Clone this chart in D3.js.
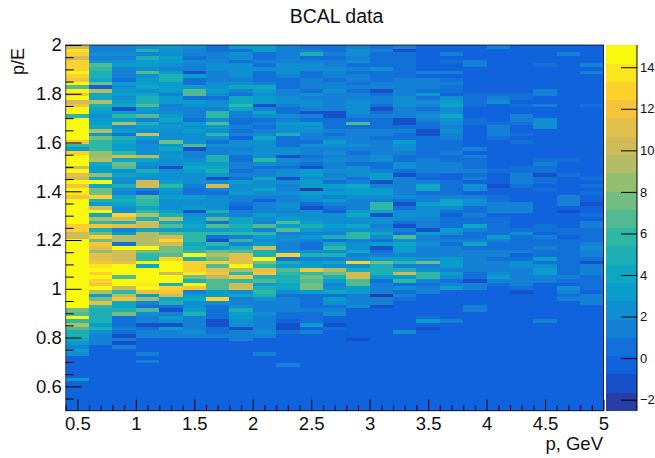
<!DOCTYPE html>
<html lang="en">
<head>
  <meta charset="UTF-8">
  <title>BCAL data</title>
  <script src="https://cdn.jsdelivr.net/npm/d3@7"></script>
  <style type="text/css">
    html, body { margin:0; padding:0; background:white; }
    svg { display:block; }
    text { font-family: "Liberation Sans", Arial, sans-serif; fill:#111; }
    .domain { display:none; }
  </style>
</head>
<body>
<svg id="chart" width="655" height="458"></svg>
<script>

  // bin values per p slice, top row (p/E = 2) first, 25 rows on a line
  const col00 = [10,14,13,10.5,12.5,12.5,13,15,13,12,15,7,15,12,15,10,12,15,15,6,15,15,15,15,15,
    15,12,6,3,12.5,15,15,15,10,15,11,10.5,15,12,15,14,12,15,15,15,15,15,15,15,13,
    12.5,10,10,15,15,15,15,15,15,15,15,15,15,15,15,15,15,15,15,15,15,15,8,7,15,
    6,9.5,7,5,5,4,3.5,1,3,2,0,0,0,0,0,0,3,0,0,0,0,0,0,0,0];
  const col01 = [1,1,2,1.5,2,6.5,5.5,5,5,4,8,0,9.5,4,4,9.5,5,4,3,2,3,3,4.5,9,3,
    8,6,6,6,8.5,8.5,9,4,3,3,8.5,4,16,4,8,8,12.5,5,3,10,16,4,9,6,12,
    5,8,13,8,12,11,8.5,11.5,11,12,14,15,12.5,15,12.5,12,15,9,3,8,11,6,5,5,5,
    5,3,5,2,1.5,1,1,0,0,0,0,0,0,0,0,0,0,0,0,0,0,0,0,0,0];
  const col02 = [1,1,2,1.5,2,3,1,1,1,.5,3,2,3,3,2,3.5,4,-1,3,6,3,9,2.5,3,.5,
    5,4.5,3,3,6,10,4,7.5,7,2.5,4,2,2,5,2.5,1.5,4.5,5,4,2,2,13,10,5,11,
    1.5,3.5,9,9,.5,16,10,10,10,11,16,16,16,7,16,16,10,6,9,12,4.5,4,5,8,.8,
    .5,.5,1.5,.5,-1,1,-1,1,0,0,0,0,0,0,0,0,0,0,0,0,0,0,0,0,0];
  const col03 = [2,5,1,5,3,3,2,7,2,3,3.5,4,2.5,4,5,5,7,3,2,7,1.5,5,3,2.5,10,
    3,1.5,2,2,2,9,4,2.5,1.5,5,3,2,10,10,1.5,0,7,6,5.5,4,6,9,5,10,10,
    4,9,9,9,9.5,16,7.5,6,5.5,16,4,15,16,16,16,14,16,11,3.5,8.5,1,.5,7,2,1,
    1,-1,.5,1,1,0,0,0,0,1.5,0,1.5,0,0,0,0,0,0,0,0,0,0,0,0,0];
  const col04 = [3,2,2,3,3,2.5,1,3,5,5,3,3,3,1,3,3,1,1.5,2,3,4,2,3.5,2,2,
    2,8,3,4,2,3.5,2,2,-1,2,2,2,3,6,3,2,3,2,2,2,3,5,9,4,7,
    3,7,10,13,10,8,8,7,12.5,15,16,16,10,15,15,5,12.5,12,10,4,5,.5,-1,1.5,3,
    2,-1,3,1,1,0,0,0,0,0,0,0,0,0,0,0,0,0,0,0,0,0,0,0,0];
  const col05 = [2,1,1,.5,2,1.5,1.5,-1,3,.3,.3,3,7,7,.5,3,2,1.5,1,1.5,.5,3,2,3,2,
    2,2,7,-1.5,1,1.5,2,3,4.5,3,2,2,2,1,.5,.5,3,2,2,3,-1,2,3,3,4,
    3.5,6,6,6,4,5,6,16,5,12.5,13,12.5,14,8,5,16,12,1.5,3,4,2,2,3,5,1,
    1.5,1.5,1.5,2,1,0,0,0,0,0,0,0,0,0,0,0,0,0,0,0,0,0,0,0,0];
  const col06 = [.3,.5,1,1,1.5,2,2,1,1.5,1.5,2,2.5,3,2,.5,2,2,1.5,6,6,2,7,3,2,6,
    2,.5,2,1.5,1.5,5,5,3,4,5,3,-1,2,10,1,.3,2,2,2,2,5,2,7,.5,7,
    3,6,.8,-1,6,3.5,8,9,8,13,7,11.5,12,9,7,7,7,3,3.5,13,2,.3,.3,.5,.8,
    -1,-1,.5,.5,1.5,0,0,0,0,0,0,0,0,0,0,0,0,0,0,0,0,0,0,0,0];
  const col07 = [3,.5,2,2,.5,2,2,2,2,1.5,2,4,1.5,.8,4,4,6,4.5,1,1,.3,.3,1,.5,1,
    0,2.5,2,1.5,2,.3,.3,1,1.5,.3,1,.3,3,2,2,3,1.5,1,.5,0,1,1,4,4,5,
    4,6,1.5,6,1,5,7,11,11,11,15,9,6,12,6,10,10,2.5,4,1,1,2,5,3,3,
    2.5,2,-1,1,1.5,1.5,0,0,0,0,0,0,0,0,0,0,0,0,0,0,0,0,0,0,0];
  const col08 = [3,3,.5,.5,1,.5,2,.3,.5,.3,1,4,3,2,3.5,3,-1,1.5,4,2,.5,1.5,.3,1,2,
    4,2,2,2,2,2,6,2,.3,1,1,4,2,2,4,2,1,0,1,1.5,1,3,2,1,7,
    1.5,6,3,2,3,10,5,5,15,8,6,11,12,5,7,3,5,6,5,2,1,1,1,2,1,
    1,1,1,2,1.5,0,0,0,0,1.5,0,0,0,0,0,0,0,0,0,0,0,0,0,0,0];
  const col09 = [1,1,1.5,1.5,1,2,2,2,1,.5,.5,.5,1,1,2,2,1.5,.8,.8,2,1,3,2,2,5,
    .8,.5,.5,2,2,-1,2,1,.8,2,2,-1,2,1.5,1,2,1,1.5,2,2,1.5,2.5,3,7,3,
    7,1,2,2.5,1,1,2,13,.5,5,3,7,6,5,5,4,4,2.5,.8,1.5,1,1,1,.5,.5,
    0,-1,-1,.5,0,0,0,0,0,0,0,0,1.5,0,0,0,0,0,0,0,0,0,0,0,0];
  const col10 = [.5,1,5,.5,1.5,2,2,.5,.5,1,1.5,1,.8,2,1.5,2,2,1,-1,1,.5,3,2,2,1,
    1,.5,2,1,1,.5,1,.5,-1,3,3,2,3,3,-2,3,2,2,.3,-1,2,2,2,3,5,
    3,1.5,3,1,.5,.5,2,5,1,3,3,12,6,8,7,8,8,3,.5,.5,.5,.5,1.5,.5,.3,
    .5,3,0,1,0,0,0,0,0,0,0,0,0,0,0,0,0,0,0,0,0,0,0,0,0];
  const col11 = [.5,.5,1,.8,1,1.5,2,1.5,1.5,.8,1,1,2,1,1.5,1.5,1,1.5,-1,-1,.5,.5,.5,1,.3,
    1,3,2,1,2,1,2,1.5,1,2,1.5,2,.5,3,2,3,1.5,3,1.5,.5,0,2,2,2,3,
    2,1.5,5,.5,4,6,2,5,1,4,2,9,8,5,3,1.5,2,4.5,.3,3,2,.5,1,2,0,
    0,-1,.5,0,0,0,0,0,0,0,0,0,0,0,0,0,0,0,0,0,0,0,0,0,0];
  const col12 = [1.5,2.5,2,1.5,2,.5,1,.5,1,1.5,.5,1,.5,1,1.5,2,2,2,2,1,.5,7,.5,1,1,
    1.5,1.5,2,1,.5,1,1,.5,2,2,2,.5,1.5,4,3,3,2,1,1,1,3,4,2,2,4,
    2,6,5.5,1.5,2,2.5,4,1.5,2,13,2.5,5,10,10,7,7,3.5,3.5,1.5,1,1,2.5,0,0,0,
    0,0,0,0,0,-1,0,0,0,0,0,0,0,0,0,0,0,0,0,0,0,0,0,0,0];
  const col13 = [.5,1,.5,.5,.5,.5,2.5,.5,.5,.5,1,1,-1,.5,1.5,1,.5,-1,.5,1,.5,.5,.5,1.5,1,
    .5,1,1,1,1.5,2,2,.5,.5,1,3,3.5,-1,1,3,3,2,1,6,6,4,-1,2,2,1,
    2,4,2,.5,3,-1,.5,1,3,8,5,5,5,3,.5,1.5,1.5,1.5,-2,1,1,-1.5,0,0,0,
    0,0,0,0,0,0,0,0,0,0,0,0,0,0,0,0,0,0,0,0,0,0,0,0,0];
  const col14 = [1.5,-1,.5,.5,.5,.8,.5,.5,.5,1,1.5,1.5,1.5,1.5,2,2,2,1.5,1,1,-1,-1,.5,1,.5,
    .5,3,2,2,1,.5,.5,2,2,.5,-1,1,1.5,1,1,1,2,.5,-1,.5,2,2,2,.8,-1,
    1,.5,7,2,4,3,3,1,3,5.5,1.5,5,10.5,3,6,.8,2,.8,1.5,.3,0,0,0,0,0,
    0,0,0,2,0,0,0,0,0,0,0,0,0,0,0,0,0,0,0,0,0,0,0,0,0];
  const col15 = [0,0,0,0,0,0,0,1,0,1.5,1.5,1,.5,3,.5,2,1,.3,1,2,1.5,.5,.5,-1,-1,
    .8,.5,.3,.3,.5,.5,1,1.5,1.5,1.5,.3,0,1,4,4,.5,1,1.5,3,2,2,2,1,1.5,1.5,
    -1,3,1,1,2.5,1,1,1,2,8,1,2.5,6,6,1,.8,1,1.5,0,0,0,0,0,0,.5,
    3,0,-1,0,0,0,0,0,0,0,0,0,0,0,0,0,0,0,0,0,0,0,0,0,0];
  const col16 = [0,0,1,0,.3,0,0,1.5,0,.3,1,.5,.5,0,2.5,3,4,2,2,4,2,2,1.5,2,1,
    1.5,.5,.5,.5,1,.3,.8,1,1,1,0,0,.3,.3,.5,.5,1,4,4,2,.3,0,.3,.3,.5,
    3,2,.8,1,.8,1,1,1.5,3,3.5,3.5,1.5,3,2.5,.5,1.5,3.5,0,0,0,0,0,0,0,0,
    1.5,0,0,0,0,0,0,0,0,0,0,0,0,0,0,0,0,0,0,0,0,0,0,0,0];
  const col17 = [0,0,0,0,1.5,1.5,0,0,0,0,0,0,0,.3,.3,.5,.3,0,0,0,.3,.5,0,0,0,
    0,0,0,1,0,1,.3,.8,.8,1.5,.3,1,0,2,2,0,1.5,2,2,.5,.5,1,.5,.3,4,
    1.5,.5,.8,1,4,.5,1,1.5,1.5,1.5,1.5,1,.5,.5,-1,1,1,0,0,0,0,1.5,1.5,0,0,
    0,0,0,0,0,0,0,0,0,0,0,0,0,0,0,0,0,0,0,0,0,0,0,0,0];
  const col18 = [1,0,0,0,0,0,0,0,0,0,0,0,0,.3,1.5,2,0,0,0,0,0,.5,1,1,1,
    .3,0,0,0,0,0,0,0,0,.3,0,0,0,-1,0,0,.3,.3,1,1,1,0,.3,.3,.5,
    .5,.5,3,1.5,.5,.5,1,1,.3,1,1,1,2,3.5,1,.3,0,0,0,0,0,0,0,0,0,
    0,0,0,0,0,0,0,0,0,0,0,0,0,0,0,0,0,0,0,0,0,0,0,0,0];
  const col19 = [0,0,0,0,0,0,0,0,0,0,0,0,0,.3,.3,0,.3,0,0,1,1.5,.8,0,0,.5,
    0,.5,0,0,0,0,0,0,.3,.5,1,1,1,.3,0,0,0,0,1,1.5,1.5,0,0,0,0,
    .5,2.5,.3,.5,.3,.8,1,0,.5,2,2,1,1.5,1.5,1.5,1.5,.3,-1,0,0,0,0,0,0,0,
    0,0,0,0,0,0,0,0,0,0,0,0,0,0,0,0,0,0,0,0,0,0,0,0,0];
  const col20 = [0,0,0,0,0,.3,0,0,0,0,0,0,1,1,0,0,1,0,0,0,2,2,2,0,0,
    0,0,0,0,0,0,.5,1,.5,.5,-1,.3,.3,0,.8,0,0,0,0,0,0,0,0,0,.5,
    .5,0,1.5,.5,.5,1,.5,.3,3,.8,2.5,3,3,1,1,0,0,0,0,0,0,0,0,0,0,
    1,0,0,0,0,0,0,0,0,0,0,0,0,0,0,0,0,0,0,0,0,0,0,0,0];
  const col21 = [0,0,1,0,0,0,0,0,0,0,0,0,0,0,0,0,0,0,0,0,0,0,0,0,0,
    0,0,0,0,0,0,.5,0,0,0,.8,0,0,0,0,0,1,1.5,1.5,0,-1,0,0,0,0,
    .5,.3,0,.8,.3,.3,.5,.3,.3,.8,.8,.5,.5,1,.3,0,2.5,1.5,.5,1.5,0,0,0,0,0,
    0,0,0,0,0,0,0,0,0,0,0,0,0,0,0,0,0,0,0,0,0,0,0,0,0];
  const col22 = [0,0,0,0,0,1,0,1,0,0,0,0,0,0,0,0,.5,0,0,0,0,0,0,0,0,
    0,0,0,0,0,0,0,0,0,0,0,.8,0,.8,0,.8,0,0,-1,0,0,.5,0,1,1,
    .3,.3,.5,.5,1.5,2,1,1,.5,-1,1,1,1,.5,.5,.3,.5,0,1,1,1.5,0,0,0,0,
    0,0,0,0,0,0,0,0,0,0,0,0,0,0,0,0,0,0,0,0,0,0,0,0,0];

  const columns = [col00,col01,col02,col03,col04,col05,col06,col07,col08,col09,col10,col11,
                   col12,col13,col14,col15,col16,col17,col18,col19,col20,col21,col22];

  const xDomain = [0.4, 5], yDomain = [0.5, 2], zDomain = [-2.53, 15.07];
  const binW = 0.2, binH = 0.015, nLevels = 20;

  const xMajor = [0.5,1,1.5,2,2.5,3,3.5,4,4.5,5];
  const xMinor = [0.4,0.6,0.7,0.8,0.9,1.1,1.2,1.3,1.4,1.6,1.7,1.8,1.9,2.1,2.2,2.3,2.4,2.6,2.7,2.8,2.9,
                  3.1,3.2,3.3,3.4,3.6,3.7,3.8,3.9,4.1,4.2,4.3,4.4,4.6,4.7,4.8,4.9];
  const yMajor = [0.6,0.8,1,1.2,1.4,1.6,1.8,2];
  const yMinor = [0.55,0.65,0.7,0.75,0.85,0.9,0.95,1.05,1.1,1.15,1.25,1.3,1.35,1.45,1.5,1.55,
                  1.65,1.7,1.75,1.85,1.9,1.95];
  const zMajor = [-2,0,2,4,6,8,10,12,14];

  // ROOT kBird palette
  const birdColors = ['#352a87','#0f5cdd','#1481d6','#06a4ca','#2eb7a4','#87bf77','#d1bb59','#fec832','#f9fb0e'];

  const frameL = 65.7, frameR = 603.5, frameT = 45, frameB = 410.7;
  const barL = 606, barR = 637;

  const svg = d3.select('#chart');
  const x = d3.scaleLinear().domain(xDomain).range([frameL, frameR]);
  const y = d3.scaleLinear().domain(yDomain).range([frameB, frameT]);
  const zBar = d3.scaleLinear().domain(zDomain).range([frameB, frameT]);

  const bird = d3.scaleLinear().domain(d3.range(9).map(i => i/8)).range(birdColors).interpolate(d3.interpolateRgb);
  const level = d3.scaleQuantize().domain(zDomain).range(d3.range(nLevels));
  function levelColor(k) { return bird(Math.floor((k+0.99)*255/nLevels)/255); }

  // cells
  const cells = svg.append('g').attr('shape-rendering', 'crispEdges');
  columns.forEach(function(col, c) {
    cells.selectAll(null).data(col).enter().append('rect')
      .attr('x', x(0.4 + c*binW))
      .attr('width', x(0.4 + binW) - x(0.4))
      .attr('y', (d,r) => y(2 - r*binH))
      .attr('height', y(0.5) - y(0.5 + binH) + 0.3)
      .attr('fill', d => levelColor(level(d)));
  });

  // colour bar
  const zStep = (zDomain[1]-zDomain[0])/nLevels;
  svg.append('g').attr('shape-rendering', 'crispEdges').selectAll('rect').data(d3.range(nLevels)).enter().append('rect')
    .attr('x', barL)
    .attr('width', barR-barL)
    .attr('y', k => zBar(zDomain[0] + (k+1)*zStep))
    .attr('height', zBar(zDomain[0]) - zBar(zDomain[0] + zStep) + 0.3)
    .attr('fill', levelColor);

  function styleTicks(g) {
    g.selectAll('line').attr('stroke', 'black').attr('stroke-width', 1);
    g.selectAll('text').style('font-size', '18.5px');
  }

  // axes, ticks point into the frame
  svg.append('g').attr('transform', `translate(0,${frameB})`)
    .call(d3.axisBottom(x).tickValues(xMinor).tickSize(-5.5).tickFormat(''));
  svg.append('g').attr('transform', `translate(0,${frameB})`)
    .call(d3.axisBottom(x).tickValues(xMajor).tickSizeInner(-11).tickSizeOuter(0).tickPadding(6).tickFormat(d => d))
    .call(styleTicks);
  svg.append('g').attr('transform', `translate(${frameL},0)`)
    .call(d3.axisLeft(y).tickValues(yMinor).tickSize(-8).tickFormat(''));
  svg.append('g').attr('transform', `translate(${frameL},0)`)
    .call(d3.axisLeft(y).tickValues(yMajor).tickSizeInner(-16).tickSizeOuter(0).tickPadding(4).tickFormat(d => d))
    .call(styleTicks);
  svg.selectAll('g .tick line').attr('stroke', 'black');

  svg.append('rect').attr('x', frameL).attr('y', frameT).attr('width', frameR-frameL).attr('height', frameB-frameT)
    .attr('fill', 'none').attr('stroke', 'black').attr('stroke-width', 1).attr('stroke-opacity', 0.75);

  // colour bar axis
  const zAxis = svg.append('g').attr('transform', `translate(${barR},0)`)
    .call(d3.axisRight(zBar).tickValues(zMajor).tickSizeInner(-16).tickSizeOuter(0).tickPadding(3));
  zAxis.selectAll('line').attr('stroke', 'black');
  zAxis.selectAll('text').style('font-size', '13px');
  svg.append('line').attr('x1', barR).attr('x2', barR).attr('y1', frameT).attr('y2', frameB).attr('stroke', 'black');

  // titles
  svg.append('text').attr('x', 336.5).attr('y', 22.5).attr('text-anchor', 'middle').style('font-size', '19.5px').text('BCAL data');
  svg.append('text').attr('x', 603).attr('y', 450).attr('text-anchor', 'end').style('font-size', '18.5px').text('p, GeV');
  svg.append('text').attr('transform', 'translate(23.5,48) rotate(-90)').attr('text-anchor', 'end').style('font-size', '18px').text('p/E');

</script>
</body>
</html>
